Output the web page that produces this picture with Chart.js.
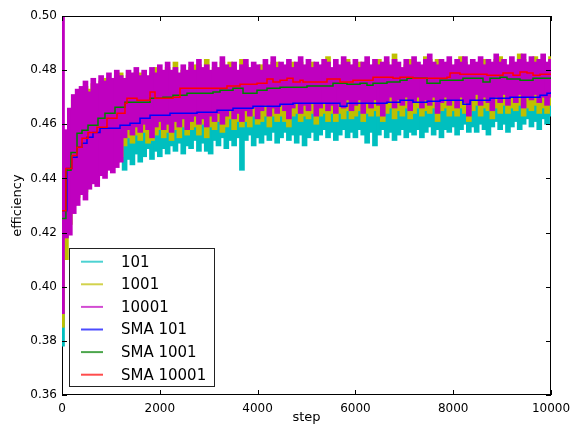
<!DOCTYPE html>
<html>
<head>
<meta charset="utf-8">
<script src="https://cdn.jsdelivr.net/npm/chart.js@4.4.1/dist/chart.umd.min.js"></script>
<style>
  html, body { margin: 0; padding: 0; background: #fff; }
  canvas { display: block; }
</style>
</head>
<body>
<canvas id="effChart" width="574" height="425"></canvas>
<script>
// Raw runs are dense, so each one is kept as a [low, high] envelope per 80-step bin
const binSteps = [
  0, 80, 160, 240, 320, 400, 480, 560, 640, 720,
  800, 880, 960, 1040, 1120, 1200, 1280, 1360, 1440, 1520,
  1600, 1680, 1760, 1840, 1920, 2000, 2080, 2160, 2240, 2320,
  2400, 2480, 2560, 2640, 2720, 2800, 2880, 2960, 3040, 3120,
  3200, 3280, 3360, 3440, 3520, 3600, 3680, 3760, 3840, 3920,
  4000, 4080, 4160, 4240, 4320, 4400, 4480, 4560, 4640, 4720,
  4800, 4880, 4960, 5040, 5120, 5200, 5280, 5360, 5440, 5520,
  5600, 5680, 5760, 5840, 5920, 6000, 6080, 6160, 6240, 6320,
  6400, 6480, 6560, 6640, 6720, 6800, 6880, 6960, 7040, 7120,
  7200, 7280, 7360, 7440, 7520, 7600, 7680, 7760, 7840, 7920,
  8000, 8080, 8160, 8240, 8320, 8400, 8480, 8560, 8640, 8720,
  8800, 8880, 8960, 9040, 9120, 9200, 9280, 9360, 9440, 9520,
  9600, 9680, 9760, 9840, 9920, 10000
];

// run "101"
const cyanLow = [
  0.378, 0.422, 0.430, 0.433, 0.436, 0.440, 0.438, 0.442, 0.444, 0.443,
  0.447, 0.446, 0.448, 0.447, 0.449, 0.450, 0.443, 0.447, 0.445, 0.449,
  0.446, 0.448, 0.451, 0.447, 0.450, 0.448, 0.451, 0.449, 0.452, 0.450,
  0.453, 0.449, 0.452, 0.451, 0.454, 0.450, 0.453, 0.450, 0.449, 0.454,
  0.452, 0.455, 0.451, 0.454, 0.452, 0.455, 0.443, 0.454, 0.456, 0.452,
  0.455, 0.453, 0.456, 0.454, 0.457, 0.453, 0.455, 0.457, 0.454, 0.456,
  0.453, 0.456, 0.452, 0.455, 0.457, 0.454, 0.456, 0.458, 0.455, 0.457,
  0.454, 0.456, 0.458, 0.455, 0.457, 0.455, 0.458, 0.456, 0.453, 0.457,
  0.452, 0.456, 0.458, 0.455, 0.457, 0.454, 0.456, 0.458, 0.455, 0.457,
  0.456, 0.458, 0.455, 0.457, 0.459, 0.456, 0.458, 0.455, 0.458, 0.457,
  0.459, 0.456, 0.458, 0.460, 0.457, 0.459, 0.457, 0.460, 0.458, 0.456,
  0.459, 0.461, 0.458, 0.460, 0.457, 0.459, 0.461, 0.458, 0.460, 0.462,
  0.459, 0.461, 0.458, 0.462, 0.460, 0.463
];
const cyanHigh = [
  0.450, 0.456, 0.460, 0.462, 0.463, 0.464, 0.465, 0.465, 0.466, 0.466,
  0.467, 0.466, 0.467, 0.468, 0.467, 0.468, 0.466, 0.468, 0.465, 0.467,
  0.469, 0.466, 0.468, 0.467, 0.465, 0.469, 0.467, 0.468, 0.466, 0.469,
  0.467, 0.470, 0.466, 0.468, 0.469, 0.467, 0.470, 0.468, 0.466, 0.469,
  0.468, 0.470, 0.467, 0.469, 0.471, 0.468, 0.467, 0.470, 0.468, 0.469,
  0.471, 0.468, 0.470, 0.469, 0.467, 0.470, 0.469, 0.471, 0.468, 0.470,
  0.469, 0.471, 0.468, 0.470, 0.469, 0.471, 0.470, 0.468, 0.471, 0.469,
  0.470, 0.468, 0.471, 0.469, 0.470, 0.472, 0.469, 0.470, 0.471, 0.469,
  0.470, 0.472, 0.469, 0.471, 0.470, 0.469, 0.471, 0.470, 0.472, 0.469,
  0.471, 0.470, 0.472, 0.469, 0.471, 0.470, 0.472, 0.470, 0.471, 0.469,
  0.472, 0.470, 0.471, 0.473, 0.470, 0.471, 0.469, 0.472, 0.471, 0.470,
  0.472, 0.470, 0.471, 0.473, 0.470, 0.472, 0.471, 0.470, 0.473, 0.471,
  0.472, 0.470, 0.473, 0.471, 0.472, 0.473
];

// run "1001"
const yellowLow = [
  0.385, 0.410, 0.423, 0.430, 0.433, 0.436, 0.435, 0.438, 0.440, 0.439,
  0.443, 0.442, 0.445, 0.444, 0.446, 0.448, 0.452, 0.455, 0.453, 0.456,
  0.454, 0.457, 0.453, 0.454, 0.456, 0.458, 0.455, 0.457, 0.454, 0.458,
  0.455, 0.459, 0.456, 0.458, 0.459, 0.456, 0.460, 0.455, 0.459, 0.458,
  0.461, 0.457, 0.459, 0.462, 0.458, 0.461, 0.459, 0.461, 0.459, 0.463,
  0.460, 0.461, 0.463, 0.459, 0.463, 0.461, 0.463, 0.461, 0.459, 0.463,
  0.464, 0.461, 0.463, 0.462, 0.464, 0.460, 0.463, 0.464, 0.461, 0.464,
  0.461, 0.464, 0.462, 0.465, 0.462, 0.463, 0.465, 0.461, 0.464, 0.463,
  0.465, 0.463, 0.461, 0.464, 0.466, 0.462, 0.465, 0.463, 0.466, 0.462,
  0.464, 0.466, 0.463, 0.465, 0.464, 0.466, 0.461, 0.465, 0.466, 0.463,
  0.465, 0.463, 0.466, 0.464, 0.461, 0.465, 0.467, 0.463, 0.466, 0.465,
  0.462, 0.466, 0.464, 0.467, 0.464, 0.466, 0.465, 0.467, 0.463, 0.466,
  0.465, 0.467, 0.464, 0.466, 0.464, 0.467
];
const yellowHigh = [
  0.420, 0.455, 0.463, 0.469, 0.471, 0.472, 0.474, 0.473, 0.475, 0.474,
  0.476, 0.477, 0.477, 0.476, 0.478, 0.479, 0.476, 0.478, 0.477, 0.479,
  0.479, 0.478, 0.477, 0.479, 0.481, 0.480, 0.479, 0.481, 0.479, 0.483,
  0.478, 0.480, 0.479, 0.481, 0.482, 0.482, 0.480, 0.484, 0.479, 0.481,
  0.480, 0.483, 0.481, 0.483, 0.481, 0.479, 0.484, 0.482, 0.480, 0.481,
  0.481, 0.482, 0.482, 0.481, 0.483, 0.483, 0.481, 0.480, 0.482, 0.483,
  0.481, 0.483, 0.481, 0.482, 0.483, 0.481, 0.481, 0.482, 0.485, 0.480,
  0.482, 0.481, 0.483, 0.484, 0.480, 0.482, 0.483, 0.481, 0.483, 0.481,
  0.482, 0.484, 0.481, 0.483, 0.481, 0.486, 0.481, 0.480, 0.482, 0.484,
  0.483, 0.481, 0.481, 0.485, 0.484, 0.481, 0.484, 0.482, 0.481, 0.483,
  0.481, 0.482, 0.485, 0.483, 0.481, 0.482, 0.481, 0.483, 0.484, 0.482,
  0.481, 0.484, 0.485, 0.482, 0.481, 0.483, 0.481, 0.486, 0.484, 0.481,
  0.483, 0.485, 0.482, 0.484, 0.482, 0.485
];

// run "10001"
const magentaLow = [
  0.390, 0.418, 0.419, 0.427, 0.430, 0.434, 0.432, 0.436, 0.438, 0.437,
  0.441, 0.440, 0.443, 0.442, 0.444, 0.446, 0.455, 0.458, 0.456, 0.459,
  0.457, 0.460, 0.458, 0.455, 0.459, 0.461, 0.458, 0.460, 0.457, 0.461,
  0.459, 0.462, 0.458, 0.461, 0.463, 0.460, 0.462, 0.459, 0.463, 0.461,
  0.464, 0.460, 0.463, 0.465, 0.462, 0.464, 0.461, 0.465, 0.463, 0.466,
  0.462, 0.465, 0.467, 0.463, 0.466, 0.464, 0.467, 0.465, 0.462, 0.466,
  0.468, 0.464, 0.467, 0.465, 0.468, 0.463, 0.466, 0.468, 0.465, 0.467,
  0.464, 0.468, 0.466, 0.469, 0.465, 0.467, 0.469, 0.464, 0.468, 0.466,
  0.469, 0.467, 0.463, 0.468, 0.470, 0.466, 0.469, 0.467, 0.470, 0.465,
  0.468, 0.470, 0.466, 0.469, 0.467, 0.470, 0.464, 0.468, 0.470, 0.467,
  0.469, 0.466, 0.470, 0.468, 0.463, 0.469, 0.471, 0.467, 0.470, 0.468,
  0.465, 0.470, 0.468, 0.471, 0.467, 0.470, 0.468, 0.471, 0.466, 0.470,
  0.469, 0.471, 0.468, 0.470, 0.467, 0.470
];
const magentaHigh = [
  0.500, 0.458, 0.466, 0.471, 0.473, 0.474, 0.476, 0.472, 0.477, 0.475,
  0.478, 0.476, 0.479, 0.477, 0.480, 0.478, 0.477, 0.480, 0.479, 0.481,
  0.478, 0.480, 0.478, 0.481, 0.479, 0.482, 0.480, 0.483, 0.480, 0.481,
  0.479, 0.482, 0.480, 0.483, 0.480, 0.484, 0.481, 0.482, 0.480, 0.483,
  0.481, 0.485, 0.482, 0.481, 0.483, 0.480, 0.482, 0.484, 0.481, 0.483,
  0.482, 0.480, 0.484, 0.482, 0.485, 0.481, 0.483, 0.482, 0.484, 0.481,
  0.483, 0.485, 0.482, 0.484, 0.481, 0.483, 0.482, 0.484, 0.483, 0.481,
  0.484, 0.482, 0.485, 0.483, 0.482, 0.484, 0.481, 0.483, 0.485, 0.482,
  0.484, 0.482, 0.483, 0.485, 0.482, 0.484, 0.483, 0.481, 0.484, 0.482,
  0.485, 0.483, 0.482, 0.484, 0.486, 0.483, 0.482, 0.484, 0.483, 0.485,
  0.482, 0.484, 0.483, 0.485, 0.482, 0.484, 0.483, 0.485, 0.482, 0.484,
  0.483, 0.486, 0.483, 0.484, 0.482, 0.485, 0.483, 0.484, 0.486, 0.483,
  0.485, 0.483, 0.484, 0.486, 0.483, 0.484
];

// moving averages: each value holds from its step until the next one
const sma101Steps = [0, 100, 200, 307, 409, 511, 634, 777, 1186, 1391, 1595, 1800, 2209, 2761, 3170, 3497, 3906,
  4458, 4724, 5685, 5828, 6646, 6912, 7178, 7464, 7730, 8200, 8344, 8753, 9162, 9775, 9918, 10000];
const sma101Values = [0.4281, 0.4437, 0.4478, 0.4515, 0.4530, 0.4552, 0.4570, 0.4585, 0.4596, 0.4604, 0.4622,
  0.4633, 0.4641, 0.4644, 0.4652, 0.4659, 0.4667, 0.4674, 0.4678, 0.4667, 0.4678, 0.4681, 0.4689, 0.4681,
  0.4685, 0.4689, 0.4674, 0.4689, 0.4696, 0.4700, 0.4707, 0.4715, 0.4719];

const sma1001Steps = [0, 80, 184, 307, 409, 532, 736, 879, 1084, 1288, 1800, 2065, 2270, 2556, 3088, 3231, 3497,
  3702, 3988, 4192, 4458, 5010, 5542, 5828, 6094, 6237, 6360, 6646, 6912, 7055, 7464, 7730, 8200, 8609, 8753,
  8957, 9100, 9366, 9632, 10000];
const sma1001Values = [0.4252, 0.4430, 0.4496, 0.4567, 0.4578, 0.4596, 0.4622, 0.4641, 0.4663, 0.4681, 0.4696,
  0.4700, 0.4707, 0.4715, 0.4719, 0.4726, 0.4733, 0.4715, 0.4726, 0.4733, 0.4737, 0.4741, 0.4752, 0.4748,
  0.4752, 0.4744, 0.4752, 0.4756, 0.4763, 0.4770, 0.4752, 0.4763, 0.4770, 0.4756, 0.4770, 0.4774, 0.4767,
  0.4763, 0.4770, 0.4774];

const sma10001Steps = [0, 80, 204, 307, 409, 532, 716, 920, 1125, 1288, 1329, 1534, 1800, 1902, 2270, 2413, 2822,
  3374, 3640, 3988, 4192, 4315, 4458, 4601, 4724, 4867, 4929, 5419, 5685, 5951, 6360, 6769, 6912, 7178, 7873,
  7935, 8139, 8691, 9018, 9223, 9366, 9509, 9632, 9775, 10000];
const sma10001Values = [0.4281, 0.4437, 0.4485, 0.4515, 0.4548, 0.4570, 0.4589, 0.4622, 0.4641, 0.4678, 0.4696,
  0.4689, 0.4719, 0.4696, 0.4700, 0.4733, 0.4733, 0.4741, 0.4748, 0.4752, 0.4767, 0.4756, 0.4763, 0.4770,
  0.4756, 0.4763, 0.4756, 0.4767, 0.4756, 0.4763, 0.4774, 0.4770, 0.4774, 0.4770, 0.4774, 0.4789, 0.4785,
  0.4781, 0.4789, 0.4781, 0.4793, 0.4789, 0.4781, 0.4785, 0.4785];

const xTicks = [0, 2000, 4000, 6000, 8000, 10000];
const yTicks = [0.36, 0.38, 0.40, 0.42, 0.44, 0.46, 0.48, 0.50];

Chart.defaults.font.family = "'DejaVu Sans', sans-serif";
Chart.defaults.font.size = 12;
Chart.defaults.color = '#000';

function bandSet(label, lows, highs, color, order) {
  return {
    type: 'bar',
    label: label,
    data: binSteps.map((s, i) => ({ x: s, y: [lows[i], highs[i]] })),
    backgroundColor: color,
    borderWidth: 0,
    grouped: false,
    barThickness: 5,
    order: order
  };
}

function smaSet(label, steps, values, color, order) {
  return {
    type: 'line',
    label: label,
    data: steps.map((s, i) => ({ x: s, y: values[i] })),
    borderColor: color,
    borderWidth: 1.5,
    pointRadius: 0,
    stepped: 'before',
    fill: false,
    order: order
  };
}

// frame, inward ticks on all four sides, axis titles
const framePlugin = {
  id: 'frame',
  beforeDatasetsDraw(chart) {
    const { ctx, chartArea: a } = chart;
    ctx.save();
    ctx.strokeStyle = '#000';
    ctx.lineWidth = 1;
    ctx.strokeRect(a.left + 0.5, a.top + 0.5, a.right - a.left - 1, a.bottom - a.top - 1);
    ctx.restore();
  },
  afterDatasetsDraw(chart) {
    const { ctx, chartArea: a, scales } = chart;
    const len = 5;
    ctx.save();
    ctx.strokeStyle = '#000';
    ctx.lineWidth = 1;
    ctx.beginPath();
    xTicks.forEach(v => {
      const px = Math.round(scales.x.getPixelForValue(v)) + 0.5;
      ctx.moveTo(px, a.bottom); ctx.lineTo(px, a.bottom - len);
      ctx.moveTo(px, a.top); ctx.lineTo(px, a.top + len);
    });
    yTicks.forEach(v => {
      const py = Math.round(scales.y.getPixelForValue(v)) + 0.5;
      ctx.moveTo(a.left, py); ctx.lineTo(a.left + len, py);
      ctx.moveTo(a.right, py); ctx.lineTo(a.right - len, py);
    });
    ctx.stroke();

    ctx.fillStyle = '#000';
    ctx.font = "13px 'DejaVu Sans', sans-serif";
    ctx.textAlign = 'center';
    ctx.textBaseline = 'middle';
    ctx.fillText('step', (a.left + a.right) / 2, 418);
    ctx.translate(18, (a.top + a.bottom) / 2);
    ctx.rotate(-Math.PI / 2);
    ctx.fillText('efficiency', 0, 0);
    ctx.restore();
  }
};

// boxed legend in the lower left of the plot
const boxLegend = {
  id: 'boxLegend',
  afterDraw(chart) {
    const { ctx } = chart;
    const box = { x: 69.5, y: 248.5, w: 145, h: 138 };
    ctx.save();
    ctx.fillStyle = '#fff';
    ctx.fillRect(box.x, box.y, box.w, box.h);
    ctx.strokeStyle = '#222';
    ctx.lineWidth = 1;
    ctx.strokeRect(box.x, box.y, box.w, box.h);
    ctx.font = "15px 'DejaVu Sans', sans-serif";
    ctx.textBaseline = 'middle';
    ctx.textAlign = 'left';
    chart.data.datasets.forEach((ds, i) => {
      const y = 261.7 + i * 22.6;
      ctx.globalAlpha = 0.7;
      ctx.strokeStyle = ds.type === 'bar' ? ds.backgroundColor : ds.borderColor;
      ctx.lineWidth = 2;
      ctx.beginPath();
      ctx.moveTo(81, y);
      ctx.lineTo(103, y);
      ctx.stroke();
      ctx.globalAlpha = 1;
      ctx.fillStyle = '#000';
      ctx.fillText(ds.label, 121, y + 1);
    });
    ctx.restore();
  }
};

new Chart(document.getElementById('effChart'), {
  type: 'bar',
  data: {
    datasets: [
      bandSet('101', cyanLow, cyanHigh, '#00bfbf', 6),
      bandSet('1001', yellowLow, yellowHigh, '#bfbf00', 5),
      bandSet('10001', magentaLow, magentaHigh, '#bf00bf', 4),
      smaSet('SMA 101', sma101Steps, sma101Values, '#0000ff', 3),
      smaSet('SMA 1001', sma1001Steps, sma1001Values, '#008000', 2),
      smaSet('SMA 10001', sma10001Steps, sma10001Values, '#ff0000', 1)
    ]
  },
  options: {
    responsive: false,
    animation: false,
    devicePixelRatio: 1,
    layout: { padding: { left: 0, right: 23, top: 16, bottom: 0 } },
    plugins: { legend: { display: false }, tooltip: { enabled: false } },
    scales: {
      x: {
        type: 'linear',
        min: 0,
        max: 10000,
        offset: false,
        grid: { display: false, drawTicks: false },
        border: { display: false },
        ticks: { padding: 7, maxRotation: 0, callback: v => String(v) },
        afterBuildTicks: s => { s.ticks = xTicks.map(v => ({ value: v })); },
        afterFit: s => { s.height = 30; s.paddingLeft = 0; s.paddingRight = 0; }
      },
      y: {
        type: 'linear',
        min: 0.36,
        max: 0.50,
        grid: { display: false, drawTicks: false },
        border: { display: false },
        ticks: { padding: 5, callback: v => v.toFixed(2) },
        afterBuildTicks: s => { s.ticks = yTicks.map(v => ({ value: v })); },
        afterFit: s => { s.width = 62; s.paddingTop = 0; s.paddingBottom = 0; }
      }
    }
  },
  plugins: [framePlugin, boxLegend]
});
</script>
</body>
</html>
